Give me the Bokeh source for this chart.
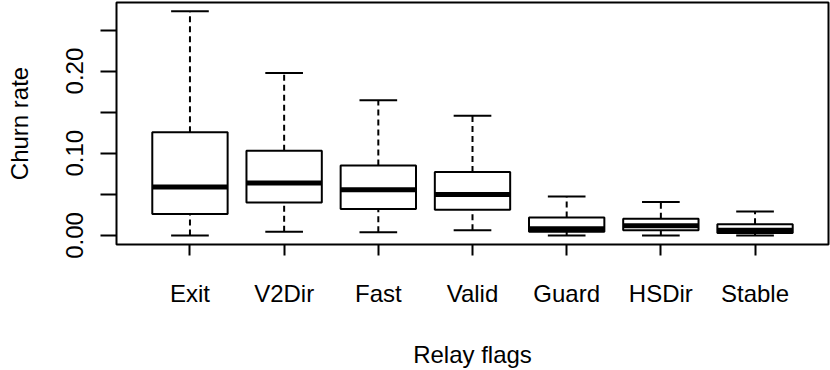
import numpy as np
from bokeh.plotting import figure
from bokeh.models import Range1d, FixedTicker, PrintfTickFormatter, ColumnDataSource
from bokeh.embed import file_html
from bokeh.resources import INLINE

categories = ["Exit", "V2Dir", "Fast", "Valid", "Guard", "HSDir", "Stable"]
whisker_low = [0.000, 0.0044, 0.0040, 0.0064, 0.000, 0.000, 0.000]
q1 = [0.0261, 0.0400, 0.0321, 0.0313, 0.0044, 0.0064, 0.0030]
median = [0.0590, 0.0638, 0.0555, 0.0499, 0.0080, 0.0119, 0.0064]
q3 = [0.1255, 0.1030, 0.0852, 0.0772, 0.0218, 0.0202, 0.0135]
whisker_high = [0.2728, 0.1976, 0.1644, 0.1457, 0.0475, 0.0408, 0.0290]
y_major = [0.0, 0.10, 0.20]
y_minor = [0.05, 0.15, 0.25]
y_title = "Churn rate"
x_title = "Relay flags"

pos = np.arange(1, len(categories) + 1)
src = ColumnDataSource(dict(
    x=pos, lo=whisker_low, q1=q1, med=median, q3=q3, hi=whisker_high,
    xl=pos - 0.4, xr=pos + 0.4, cl=pos - 0.2, cr=pos + 0.2,
))

p = figure(width=830, height=370, output_backend="svg", toolbar_location=None,
           x_range=Range1d(0.22, 7.78), y_range=Range1d(-0.01105, 0.2835),
           min_border_left=116, min_border_right=2, min_border_top=2, min_border_bottom=120)
p.xgrid.visible = False
p.ygrid.visible = False
p.outline_line_color = "black"
p.outline_line_width = 2
p.background_fill_color = "white"
p.border_fill_color = "white"

font = "Liberation Sans"

# whiskers
p.segment(x0="x", y0="q3", x1="x", y1="hi", source=src, line_color="black", line_width=2, line_dash="6 4")
p.segment(x0="x", y0="lo", x1="x", y1="q1", source=src, line_color="black", line_width=2, line_dash="6 4")
p.segment(x0="cl", y0="hi", x1="cr", y1="hi", source=src, line_color="black", line_width=2)
p.segment(x0="cl", y0="lo", x1="cr", y1="lo", source=src, line_color="black", line_width=2)
# boxes
p.quad(left="xl", right="xr", bottom="q1", top="q3", source=src, fill_color="white",
       line_color="black", line_width=2)
p.segment(x0="xl", y0="med", x1="xr", y1="med", source=src, line_color="black", line_width=5)

xa = p.xaxis[0]
xa.ticker = FixedTicker(ticks=list(pos))
xa.major_label_overrides = {int(i): c for i, c in zip(pos, categories)}
xa.axis_line_color = None
xa.major_tick_out = 11
xa.major_tick_in = 0
xa.major_tick_line_width = 2
xa.minor_tick_line_color = None
xa.major_label_text_font = font
xa.major_label_text_font_size = "24px"
xa.major_label_text_color = "black"
xa.major_label_standoff = 24
xa.axis_label = x_title
xa.axis_label_text_font = font
xa.axis_label_text_font_size = "24px"
xa.axis_label_text_font_style = "normal"
xa.axis_label_text_color = "black"
xa.axis_label_standoff = 31

ya = p.yaxis[0]
ya.ticker = FixedTicker(ticks=y_major, minor_ticks=y_minor)
ya.formatter = PrintfTickFormatter(format="%.2f")
ya.axis_line_color = None
ya.major_tick_out = 16
ya.major_tick_in = 0
ya.minor_tick_out = 16
ya.minor_tick_in = 0
ya.major_tick_line_width = 2
ya.minor_tick_line_width = 2
ya.minor_tick_line_color = "black"
ya.major_label_orientation = "vertical"
ya.major_label_text_font = font
ya.major_label_text_font_size = "24px"
ya.major_label_text_color = "black"
ya.major_label_standoff = 17
ya.axis_label = y_title
ya.axis_label_text_font = font
ya.axis_label_text_font_size = "24px"
ya.axis_label_text_font_style = "normal"
ya.axis_label_text_color = "black"
ya.axis_label_standoff = 31

open("out.html", "w").write(file_html(p, INLINE))
